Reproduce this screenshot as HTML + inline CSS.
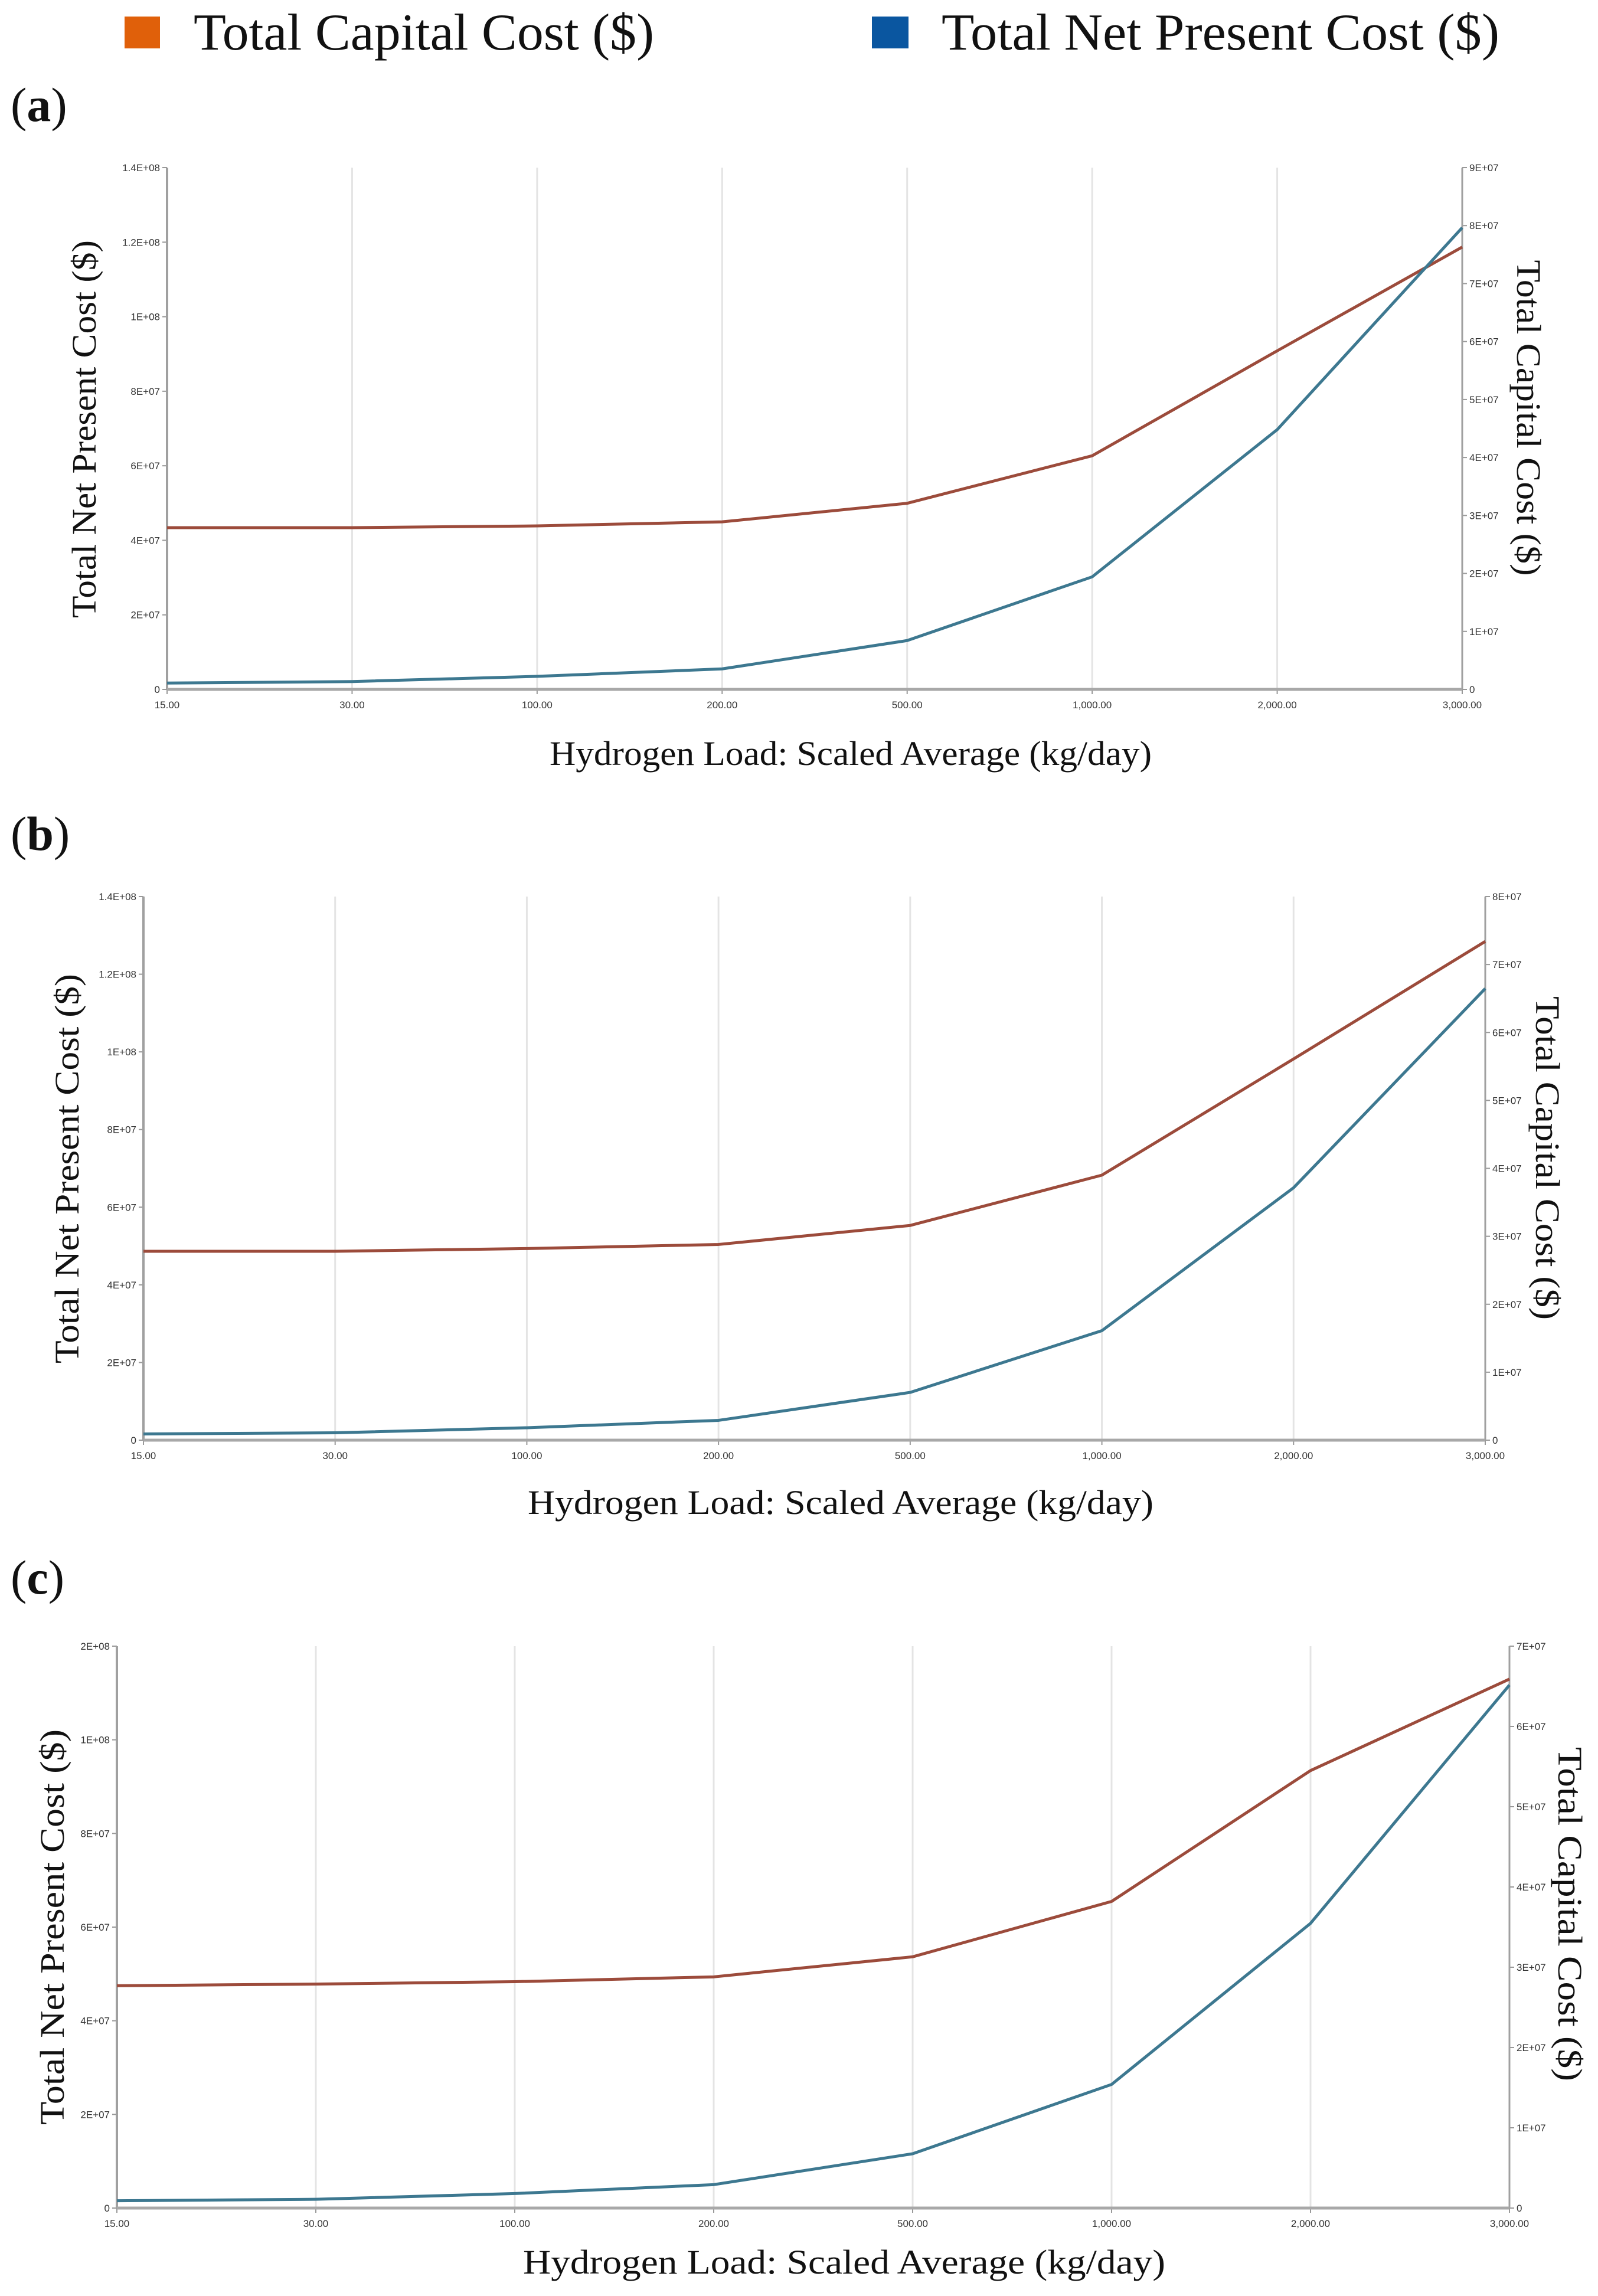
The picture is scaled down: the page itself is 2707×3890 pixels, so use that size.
<!DOCTYPE html>
<html><head><meta charset="utf-8">
<style>
html,body{margin:0;padding:0;background:#fff;}
svg{display:block;}
.serif{font-family:"Liberation Serif",serif;fill:#111;}
.tick{font-family:"Liberation Sans",sans-serif;font-size:17px;fill:#333;}
</style></head>
<body>
<svg id="fig" width="2707" height="3890" viewBox="0 0 2707 3890" xmlns="http://www.w3.org/2000/svg">
  <g>
    <rect x="211" y="28" width="60" height="54" fill="#e0600a"/>
    <text class="serif" x="328" y="84" font-size="88" textLength="780" lengthAdjust="spacingAndGlyphs">Total Capital Cost ($)</text>
    <rect x="1477" y="28" width="62" height="54" fill="#0a56a0"/>
    <text class="serif" x="1595" y="84" font-size="88" textLength="945" lengthAdjust="spacingAndGlyphs">Total Net Present Cost ($)</text>
  </g>
</svg>
<script>
// x categories (shared)
const categories = ["15.00","30.00","100.00","200.00","500.00","1,000.00","2,000.00","3,000.00"];
// panel (a) values
const npcA = [1.7e6, 2.1e6, 3.5e6, 5.5e6, 13.1e6, 30.2e6, 69.7e6, 123.9e6];
const capA = [27.9e6, 27.9e6, 28.2e6, 28.9e6, 32.1e6, 40.3e6, 58.4e6, 76.3e6];
const leftTicksA = ["0","2E+07","4E+07","6E+07","8E+07","1E+08","1.2E+08","1.4E+08"];
const rightTicksA = ["0","1E+07","2E+07","3E+07","4E+07","5E+07","6E+07","7E+07","8E+07","9E+07"];
const leftMaxA = 1.4e8, rightMaxA = 9e7;
// panel (b) values
const npcB = [1.6e6, 1.9e6, 3.2e6, 5.1e6, 12.3e6, 28.2e6, 65.0e6, 116.3e6];
const capB = [27.8e6, 27.8e6, 28.2e6, 28.8e6, 31.6e6, 39.0e6, 56.1e6, 73.4e6];
const leftTicksB = ["0","2E+07","4E+07","6E+07","8E+07","1E+08","1.2E+08","1.4E+08"];
const rightTicksB = ["0","1E+07","2E+07","3E+07","4E+07","5E+07","6E+07","7E+07","8E+07"];
const leftMaxB = 1.4e8, rightMaxB = 8e7;
// panel (c) values
const npcC = [1.56e6, 1.87e6, 3.1e6, 5.0e6, 11.6e6, 26.4e6, 60.8e6, 111.7e6];
const capC = [27.7e6, 27.9e6, 28.2e6, 28.8e6, 31.3e6, 38.2e6, 54.5e6, 65.9e6];
const leftTicksC = ["0","2E+07","4E+07","6E+07","8E+07","1E+08","2E+08"];
const rightTicksC = ["0","1E+07","2E+07","3E+07","4E+07","5E+07","6E+07","7E+07"];
const leftMaxC = 1.2e8, rightMaxC = 7e7;

const NS = "http://www.w3.org/2000/svg";
const svg = document.getElementById("fig");
function mk(tag, attrs, parent){
  const e = document.createElementNS(NS, tag);
  for (const k in attrs) e.setAttribute(k, attrs[k]);
  (parent||svg).appendChild(e);
  return e;
}

const panels = [
  {id:"a", npc:npcA, cap:capA, lt:leftTicksA, rt:rightTicksA, lmax:leftMaxA, rmax:rightMaxA,
   L:283, R:2477, T:284, B:1168, labY:205, xtY:1296, xtW:1020, xtX:1441,
   ltX:142, ltY:727, ltW:640, rtX:2590, rtY:708, rtW:535},
  {id:"b", npc:npcB, cap:capB, lt:leftTicksB, rt:rightTicksB, lmax:leftMaxB, rmax:rightMaxB,
   L:243, R:2516, T:1519, B:2440, labY:1440, xtY:2565, xtW:1060, xtX:1424,
   ltX:113, ltY:1980, ltW:660, rtX:2622, rtY:1962, rtW:548},
  {id:"c", npc:npcC, cap:capC, lt:leftTicksC, rt:rightTicksC, lmax:leftMaxC, rmax:rightMaxC,
   L:198, R:2557, T:2789, B:3741, labY:2700, xtY:3852, xtW:1088, xtX:1430,
   ltX:88, ltY:3265, ltW:670, rtX:2660, rtY:3243, rtW:566}
];

panels.forEach(p => {
  const g = mk("g", {});
  
  
  const n = categories.length;
  const xs = i => p.L + (p.R - p.L) * i / (n - 1);
  const yl = v => p.B - (p.B - p.T) * v / p.lmax;
  const yr = v => p.B - (p.B - p.T) * v / p.rmax;

  const lab = mk("text", {class:"serif", x:18, y:p.labY, "font-size":82}, g);
  lab.innerHTML = '(<tspan font-weight="bold">' + p.id + '</tspan>)';
  
  

  categories.forEach((c, i) => {
    const x = xs(i);
    if (i > 0 && i < n - 1) {
      const gl = mk("line", {x1:x, x2:x, y1:p.T, y2:p.B, stroke:"#e4e4e4", "stroke-width":3}, g);
      
      
    }
    const tk = mk("line", {x1:x, x2:x, y1:p.B, y2:p.B + 8, stroke:"#999", "stroke-width":2}, g);
    
    
    const t = mk("text", {class:"tick", x:x, y:p.B + 32, "text-anchor":"middle"}, g);
    t.textContent = c;
    
    
  });

  p.lt.forEach((s, i) => {
    const y = p.B - (p.B - p.T) * i / (p.lt.length - 1);
    const tk = mk("line", {x1:p.L - 8, x2:p.L, y1:y, y2:y, stroke:"#999", "stroke-width":2}, g);
    
    
    const t = mk("text", {class:"tick", x:p.L - 12, y:y + 6, "text-anchor":"end"}, g);
    t.textContent = s;
    
    
  });
  p.rt.forEach((s, i) => {
    const y = p.B - (p.B - p.T) * i / (p.rt.length - 1);
    const tk = mk("line", {x1:p.R, x2:p.R + 8, y1:y, y2:y, stroke:"#999", "stroke-width":2}, g);
    
    
    const t = mk("text", {class:"tick", x:p.R + 12, y:y + 6, "text-anchor":"start"}, g);
    t.textContent = s;
    
    
  });

  const la = mk("line", {x1:p.L, x2:p.L, y1:p.T, y2:p.B, stroke:"#a0a0a0", "stroke-width":4}, g);
  
  
  const ra = mk("line", {x1:p.R, x2:p.R, y1:p.T, y2:p.B, stroke:"#a0a0a0", "stroke-width":3}, g);
  
  
  const xa = mk("line", {x1:p.L, x2:p.R, y1:p.B, y2:p.B, stroke:"#a8a8a8", "stroke-width":5}, g);
  
  

  const capPts = p.cap.map((v, i) => xs(i) + "," + yr(v)).join(" ");
  const cl = mk("polyline", {points:capPts, fill:"none", stroke:"#9c4b3b", "stroke-width":5, "stroke-linejoin":"round"}, g);
  
  
  const npcPts = p.npc.map((v, i) => xs(i) + "," + yl(v)).join(" ");
  const nl = mk("polyline", {points:npcPts, fill:"none", stroke:"#3d7890", "stroke-width":5, "stroke-linejoin":"round"}, g);
  
  

  const xt = mk("text", {class:"serif", x:p.xtX, y:p.xtY, "font-size":58, "text-anchor":"middle", textLength:p.xtW, lengthAdjust:"spacingAndGlyphs"}, g);
  xt.textContent = "Hydrogen Load: Scaled Average (kg/day)";
  
  
  const lt = mk("text", {class:"serif", x:0, y:0, "font-size":58, "text-anchor":"middle", textLength:p.ltW, lengthAdjust:"spacingAndGlyphs",
    transform:"translate(" + (p.ltX + 20) + "," + p.ltY + ") rotate(-90)"}, g);
  lt.textContent = "Total Net Present Cost ($)";
  
  
  const rt = mk("text", {class:"serif", x:0, y:0, "font-size":58, "text-anchor":"middle", textLength:p.rtW, lengthAdjust:"spacingAndGlyphs",
    transform:"translate(" + (p.rtX - 20) + "," + p.rtY + ") rotate(90)"}, g);
  rt.textContent = "Total Capital Cost ($)";
  
  
});
</script>
</body></html>
